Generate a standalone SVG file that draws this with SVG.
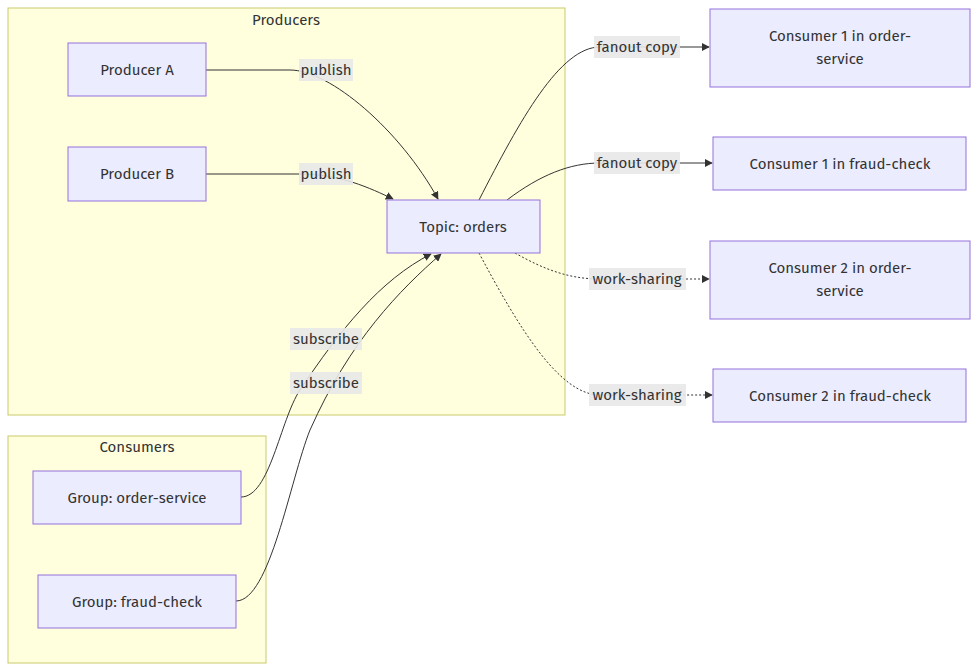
<svg xmlns="http://www.w3.org/2000/svg" width="978" height="672" viewBox="0 0 978 672">
<style>
text{font-family:"Fira Sans","Open Sans","Noto Sans",sans-serif;font-size:15px;fill:#333;text-anchor:middle;dominant-baseline:central}
.cl{fill:#ffffde;stroke:#c9c96a;stroke-width:1}
.n rect{fill:#ececff;stroke:#9370db;stroke-width:1}
.e{fill:none;stroke:#333;stroke-width:1}
.d{stroke-dasharray:2 2}
.lb{fill:#e8e8e8;opacity:.9}
</style>
<defs><marker id="a" viewBox="0 0 10 10" refX="9" refY="5" markerWidth="8" markerHeight="8" orient="auto"><path d="M0 0L10 5L0 10z" fill="#333"/></marker></defs>
<g id="producers"><rect class="cl" x="8" y="8" width="557" height="407"/><text x="286" y="20">Producers</text></g>
<g id="consumers"><rect class="cl" x="8" y="436" width="258" height="227"/><text x="137" y="447">Consumers</text></g>
<g id="connectors">
<path class="e" marker-end="url(#a)" d="M206 70H290C330 70 400 130 438 199"/>
<path class="e" marker-end="url(#a)" d="M206 174H300C340 174 370 188 393 199"/>
<path class="e" marker-end="url(#a)" d="M479 200C520 120 560 47 600 47H709"/>
<path class="e" marker-end="url(#a)" d="M507 200C540 175 570 163 600 163H712"/>
<path class="e d" marker-end="url(#a)" d="M515 253C545 270 570 279 600 279H709"/>
<path class="e d" marker-end="url(#a)" d="M479 253C520 330 560 395 600 395H712"/>
<path class="e" marker-end="url(#a)" d="M241 497C270 497 280 420 300 390C340 330 380 280 431 254"/>
<path class="e" marker-end="url(#a)" d="M236 601C270 601 290 480 310 430C350 340 400 290 441 254"/>
<rect class="lb" x="299" y="59" width="54" height="22"/><text x="326" y="70">publish</text>
<rect class="lb" x="299" y="163" width="54" height="22"/><text x="326" y="174">publish</text>
<rect class="lb" x="594" y="36" width="86" height="22"/><text x="637" y="47">fanout copy</text>
<rect class="lb" x="594" y="152" width="86" height="22"/><text x="637" y="163">fanout copy</text>
<rect class="lb" x="589" y="268" width="97" height="22"/><text x="637" y="279">work-sharing</text>
<rect class="lb" x="589" y="384" width="97" height="22"/><text x="637" y="395">work-sharing</text>
<rect class="lb" x="290" y="328" width="72" height="22"/><text x="326" y="339">subscribe</text>
<rect class="lb" x="290" y="372" width="72" height="22"/><text x="326" y="383">subscribe</text>
</g>
<g id="pa" class="n"><rect x="68" y="43" width="138" height="53"/><text x="137" y="70">Producer A</text></g>
<g id="pb" class="n"><rect x="68" y="147" width="138" height="54"/><text x="137" y="174">Producer B</text></g>
<g id="topic" class="n"><rect x="387" y="200" width="153" height="53"/><text x="463" y="227">Topic: orders</text></g>
<g id="go" class="n"><rect x="33" y="471" width="208" height="53"/><text x="137" y="498">Group: order-service</text></g>
<g id="gf" class="n"><rect x="38" y="575" width="198" height="53"/><text x="137" y="602">Group: fraud-check</text></g>
<g id="c1o" class="n"><rect x="710" y="9" width="260" height="78"/><text x="840" y="36">Consumer 1 in order-</text><text x="840" y="59">service</text></g>
<g id="c1f" class="n"><rect x="713" y="137" width="253" height="53"/><text x="840" y="164">Consumer 1 in fraud-check</text></g>
<g id="c2o" class="n"><rect x="710" y="241" width="260" height="78"/><text x="840" y="268">Consumer 2 in order-</text><text x="840" y="291">service</text></g>
<g id="c2f" class="n"><rect x="713" y="369" width="253" height="53"/><text x="840" y="396">Consumer 2 in fraud-check</text></g>
</svg>
